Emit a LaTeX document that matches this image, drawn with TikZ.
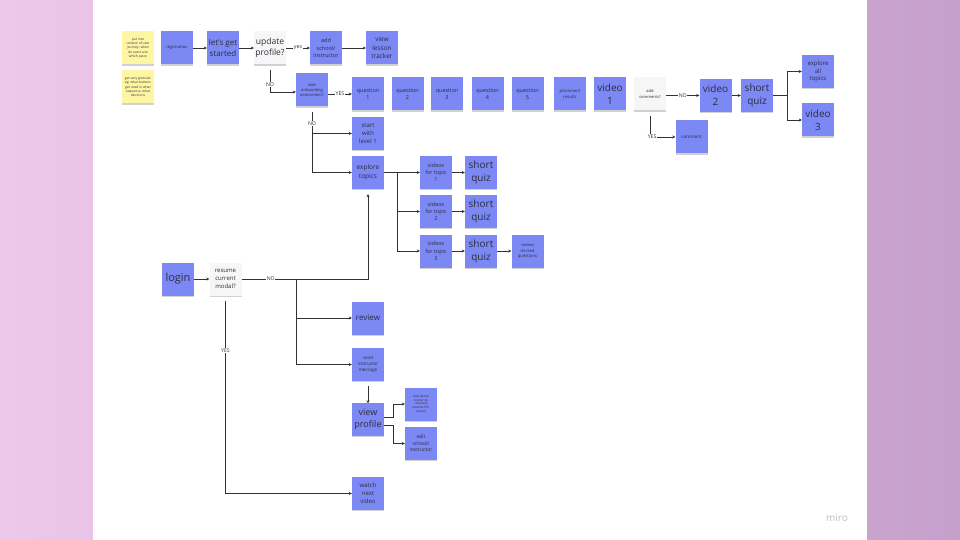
\documentclass[tikz,border=0pt]{standalone}
\usepackage{fontspec}
\setmainfont{Open Sans}
\usetikzlibrary{arrows.meta,shadows}
\definecolor{bgL}{RGB}{238,200,234}
\definecolor{bgR}{RGB}{198,160,204}
\definecolor{sblue}{RGB}{124,136,244}
\definecolor{syel}{RGB}{255,246,164}
\definecolor{swht}{RGB}{246,246,246}
\definecolor{txt}{RGB}{45,45,62}
\definecolor{linec}{RGB}{50,50,50}
\tikzset{
  x=1pt, y=1pt,
  fs/.style={font=\fontsize{#1}{\fpeval{#1*1.3}}\selectfont},
  sticky/.style={minimum width=32pt, minimum height=33pt, inner sep=0pt, align=center, text=txt,
    drop shadow={shadow xshift=0.3pt, shadow yshift=-1.3pt, fill=black, opacity=0.18}},
  bs/.style={sticky, fill=sblue},
  ys/.style={sticky, fill=syel},
  ws/.style={sticky, fill=swht},
  ln/.style={draw=linec, line width=0.6pt},
  conn/.style={ln, -{Stealth[length=3pt,width=3pt]}},
  lbl/.style={font=\fontsize{5.2}{6}\selectfont, fill=white, inner sep=0.6pt, text=txt}
}
\begin{document}
\begin{tikzpicture}
\useasboundingbox (0,0) rectangle (960,-540);
\fill[left color=bgL, right color=bgR] (0,0) rectangle (960,-540);
\fill[white] (93,0) rectangle (866.5,-540);

% top row
\node[ys, fs=3.3] (y1) at (138,-48) {put into\\context of user\\journey: when\\do users use\\which piece};
\node[ys, fs=3.3] (y2) at (138,-87) {get very granular\\eg: what buttons\\get used in what\\sequence, what\\decisions};
\node[bs, fs=4] (reg) at (177,-48) {registration};
\node[bs, fs=8] (lgs) at (223,-48) {let's get\\started};
\node[ws, fs=8.5] (upd) at (270,-48) {update\\profile?};
\node[bs, fs=5.5] (add) at (326,-48) {add\\school/\\instructor};
\node[bs, fs=6.5] (vlt) at (382,-48) {view\\lesson\\tracker};

% onboarding row
\node[bs, fs=4] (tak) at (312,-90) {take\\onboarding\\assessment?};
\node[bs, fs=5.5] (q1) at (368,-94) {question\\1};
\node[bs, fs=5.5] (q2) at (407.5,-94) {question\\2};
\node[bs, fs=5.5] (q3) at (447,-94) {question\\3};
\node[bs, fs=5.5] (q4) at (487.5,-94) {question\\4};
\node[bs, fs=5.5] (q5) at (527.5,-94) {question\\5};
\node[bs, fs=4.2] (pr) at (570,-94) {placement\\results};
\node[bs, fs=10] (v1) at (610,-94) {video\\1};
\node[ws, fs=4] (ac) at (650,-94) {add\\comments?};
\node[bs, fs=10] (v2) at (715.5,-95.5) {video\\2};
\node[bs, fs=10] (sq) at (757,-95.5) {short\\quiz};
\node[bs, fs=6] (eat) at (818,-71.5) {explore\\all\\topics};
\node[bs, fs=10] (v3) at (818,-120) {video\\3};
\node[bs, fs=4.5] (com) at (691.5,-137) {comment};

% level / topics
\node[bs, fs=6] (swl) at (368,-133.5) {start\\with\\level 1};
\node[bs, fs=6.5] (ext) at (368,-172.5) {explore\\topics};
\node[bs, fs=5.5] (vt1) at (436,-172.5) {videos\\for topic\\1};
\node[bs, fs=10] (sq1) at (481,-172.5) {short\\quiz};
\node[bs, fs=5.5] (vt2) at (436,-211.5) {videos\\for topic\\2};
\node[bs, fs=10] (sq2) at (481,-211.5) {short\\quiz};
\node[bs, fs=5.5] (vt3) at (436,-251) {videos\\for topic\\3};
\node[bs, fs=10] (sq3) at (481,-251) {short\\quiz};
\node[bs, fs=4.2] (rmq) at (527.5,-251) {review\\missed\\questions};

% login part
\node[bs, fs=11] (login) at (178,-279) {login};
\node[ws, fs=6] (rcm) at (225.5,-279) {resume\\current\\modal?};
\node[bs, fs=8] (rev) at (368,-318) {review};
\node[bs, fs=4.5] (sim) at (368,-364.5) {send\\instructor\\message};
\node[bs, fs=9] (vp) at (368,-419) {view\\profile};
\node[bs, fs=3] (vlt2) at (421,-404) {view lesson\\tracker (\&\\complete\\towards PPL\\exams)};
\node[bs, fs=5] (esi) at (421,-443.5) {edit\\school/\\instructor};
\node[bs, fs=6] (wnv) at (368,-493.5) {watch\\next\\video};

\node[text=black!25, font=\fontsize{10}{10}\selectfont] (miro) at (837,-518) {miro};

% connectors top row
\draw[conn] (reg) -- (lgs);
\draw[conn] (lgs) -- (upd);
\draw[conn] (upd) -- node[lbl]{yes} (add);
\draw[conn] (add) -- (vlt);
\draw[conn] ([yshift=-5pt]upd.south) |- node[lbl, pos=0.33]{NO} ([yshift=-2pt]tak.west);
\draw[conn] (tak.east |- q1.west) -- node[lbl]{YES} (q1.west);

% onboarding NO branch
\coordinate (tj) at (tak.south |- ext.west);
\draw[conn] ([yshift=-5pt]tak.south) -- node[lbl, pos=0.2]{NO} (tj) -- (ext.west);
\draw[conn] (tak.south |- swl.west) -- (swl.west);

% comments
\draw[conn] (ac.east |- v2.west) -- node[lbl]{NO} (v2.west);
\coordinate (cj) at (ac.south |- com.west);
\draw[ln] ([yshift=-5pt]ac.south) -- (cj);
\node[lbl, anchor=west] (yesc) at ([xshift=-3pt]cj) {YES};
\draw[conn] (yesc.east) -- (com.west);
\draw[conn] (v2) -- (sq);
\coordinate (sj) at (787,-95.5);
\draw[ln] (sq.east) -- (sj);
\draw[conn] (sj) |- (eat.west);
\draw[conn] (sj) |- (v3.west);

% topics
\coordinate (ej) at (397,-172.5);
\draw[ln] (ext.east) -- (ej);
\draw[conn] (ej) -- (vt1.west);
\draw[conn] (ej) |- (vt2.west);
\draw[conn] (ej) |- (vt3.west);
\draw[conn] (vt1) -- (sq1);
\draw[conn] (vt2) -- (sq2);
\draw[conn] (vt3) -- (sq3);
\draw[conn] (sq3) -- (rmq);

% login flow
\draw[conn] (login) -- (rcm);
\draw[conn] (rcm.east) -- node[lbl, pos=0.23]{NO} (ext.south |- rcm.east) -- ([yshift=-5pt]ext.south);
\coordinate (rj) at (296.5,-279);
\draw[conn] (rj) |- (rev.west);
\draw[conn] (rj) |- (sim.west);
\draw[conn] ([yshift=-5pt]sim.south) -- ([yshift=-1pt]vp.north);
\draw[conn] ([yshift=2pt]vp.east) -- ++(9,0) |- (vlt2.west);
\draw[conn] ([yshift=-6pt]vp.east) -- ++(9,0) |- (esi.west);
\draw[conn] ([yshift=-5pt]rcm.south) |- node[lbl, pos=0.13]{YES} (wnv.west);
\end{tikzpicture}
\end{document}
